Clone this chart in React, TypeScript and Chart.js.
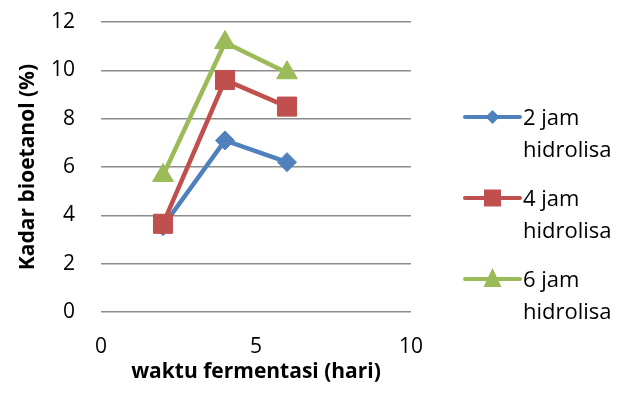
import React, { useEffect, useRef } from "react";
import { Chart, registerables } from "chart.js";

Chart.register(...registerables);

const days = [2, 4, 6];
const series2jam = [3.55, 7.1, 6.2];
const series4jam = [3.65, 9.6, 8.5];
const series6jam = [5.65, 11.15, 9.9];
const seriesLabels = ["2 jam hidrolisa", "4 jam hidrolisa", "6 jam hidrolisa"];
const legendLines = [
  ["2 jam", "hidrolisa"],
  ["4 jam", "hidrolisa"],
  ["6 jam", "hidrolisa"],
];
const colors = ["#4F81BD", "#C0504D", "#9BBB59"];
const pointStyles = ["rectRot", "rect", "triangle"];
const pointRadii = [9.5, 13.5, 12];
const xTitle = "waktu fermentasi (hari)";
const yTitle = "Kadar bioetanol (%)";

const FONT = "'Open Sans', 'Noto Sans', sans-serif";

function drawLegendMarker(ctx: CanvasRenderingContext2D, style: string, x: number, y: number, color: string) {
  ctx.fillStyle = color;
  ctx.beginPath();
  if (style === "rectRot") {
    const r = 7;
    ctx.moveTo(x, y - r);
    ctx.lineTo(x + r, y);
    ctx.lineTo(x, y + r);
    ctx.lineTo(x - r, y);
    ctx.closePath();
  } else if (style === "rect") {
    const h = 8.5;
    ctx.rect(x - h, y - h, 2 * h, 2 * h);
  } else {
    ctx.moveTo(x, y - 11);
    ctx.lineTo(x + 9, y + 8);
    ctx.lineTo(x - 9, y + 8);
    ctx.closePath();
  }
  ctx.fill();
}

const sideLegend = {
  id: "sideLegend",
  afterDraw(chart: any) {
    const ctx: CanvasRenderingContext2D = chart.ctx;
    const area = chart.chartArea;
    const x0 = area.right + 54;
    chart.data.datasets.forEach((ds: any, i: number) => {
      const y = area.top + 95 + i * 81;
      ctx.save();
      ctx.strokeStyle = ds.borderColor;
      ctx.lineWidth = 4;
      ctx.lineCap = "round";
      ctx.beginPath();
      ctx.moveTo(x0, y);
      ctx.lineTo(x0 + 55, y);
      ctx.stroke();
      drawLegendMarker(ctx, ds.pointStyle, x0 + 27.5, y, ds.borderColor);
      ctx.fillStyle = "#000";
      ctx.font = `22px ${FONT}`;
      ctx.textAlign = "left";
      ctx.textBaseline = "alphabetic";
      legendLines[i].forEach((line, j) => {
        ctx.fillText(line, x0 + 58, y + 8 + j * 32);
      });
      ctx.restore();
    });
  },
};

export default function App() {
  const canvasRef = useRef<HTMLCanvasElement | null>(null);

  useEffect(() => {
    const canvas = canvasRef.current;
    if (!canvas) return;
    const allSeries = [series2jam, series4jam, series6jam];
    const chart = new Chart(canvas, {
      type: "scatter",
      data: {
        datasets: allSeries.map((vals, i) => ({
          label: seriesLabels[i],
          data: days.map((d, k) => ({ x: d, y: vals[k] })),
          showLine: true,
          borderColor: colors[i],
          backgroundColor: colors[i],
          borderWidth: 4.5,
          pointStyle: pointStyles[i],
          pointRadius: pointRadii[i],
          pointBorderWidth: 1,
          pointBorderColor: colors[i],
          pointBackgroundColor: colors[i],
          order: 3 - i,
        })),
      },
      options: {
        responsive: false,
        animation: false,
        devicePixelRatio: 1,
        layout: { padding: { left: 0, right: 221, top: 22, bottom: 0 } },
        plugins: {
          legend: { display: false },
          tooltip: { enabled: false },
        },
        scales: {
          x: {
            type: "linear",
            min: 0,
            max: 10,
            ticks: {
              stepSize: 5,
              padding: 22,
              color: "#000",
              font: { family: FONT, size: 21 },
            },
            grid: { display: false, drawTicks: false },
            border: { display: false },
            title: {
              display: true,
              text: xTitle,
              color: "#000",
              font: { family: FONT, size: 21, weight: "bold" },
              padding: { top: 0, bottom: 11 },
            },
            afterFit(scale: any) {
              scale.height = 84;
              scale.paddingLeft = 10;
              scale.paddingRight = 10;
            },
          },
          y: {
            min: 0,
            max: 12,
            ticks: {
              stepSize: 2,
              padding: 26,
              color: "#000",
              font: { family: FONT, size: 21 },
            },
            grid: { color: "#8c8c8c", lineWidth: 1.5, drawTicks: false },
            border: { display: false },
            title: {
              display: true,
              text: yTitle,
              color: "#000",
              font: { family: FONT, size: 21, weight: "bold" },
              padding: { top: 15, bottom: 0 },
            },
            afterFit(scale: any) {
              scale.width = 101;
              scale.paddingTop = 10;
              scale.paddingBottom = 10;
            },
          },
        },
      },
      plugins: [sideLegend],
    } as any);
    return () => chart.destroy();
  }, []);

  return (
    <div style={{ position: "fixed", left: 0, top: 0, width: 632, height: 396, background: "#fff" }}>
      <canvas ref={canvasRef} width={632} height={396} style={{ display: "block" }} />
    </div>
  );
}
